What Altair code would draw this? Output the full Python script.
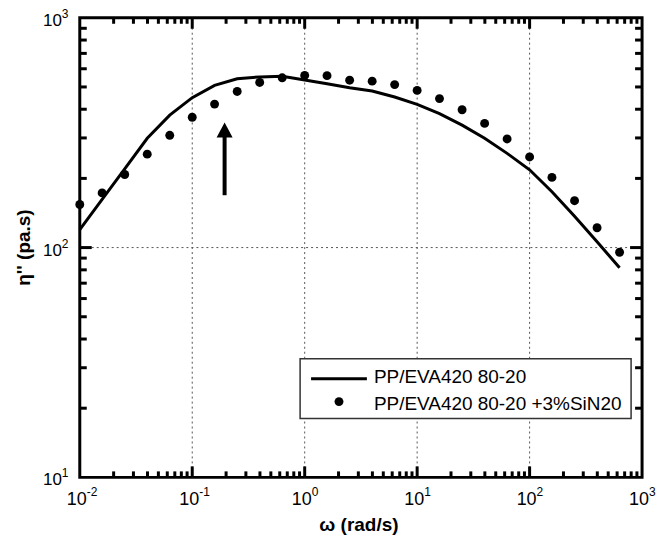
import altair as alt
import pandas as pd

# ---- data ----
omega = [0.01, 0.0158, 0.0251, 0.0398, 0.0631, 0.1, 0.158, 0.251, 0.398, 0.631,
         1.0, 1.58, 2.51, 3.98, 6.31, 10, 15.8, 25.1, 39.8, 63.1,
         100, 158, 251, 398, 631]
eta_blend = [119.7, 162, 220, 299, 377, 449, 508, 543, 553, 556,
             536, 516, 496, 480, 452, 420, 383, 341, 299, 257,
             218, 175, 137, 106, 81.7]
eta_sin = [154, 173, 208, 255, 308, 369, 421, 478, 523, 548,
           561, 560, 535, 530, 512, 483, 445, 398, 347, 297,
           248, 202, 160, 122, 95.4]

series_names = ["PP/EVA420 80-20", "PP/EVA420 80-20 +3%SiN20"]
x_title = "ω (rad/s)"
y_title = "η'' (pa.s)"

x_decades = [-2, -1, 0, 1, 2, 3]
y_decades = [1, 2, 3]
x_grid = [0.1, 1, 10, 100]
y_grid = [100]

arrow_x = [0.194]
arrow_y0 = [169]
arrow_y1 = [310]
arrow_head_y = [325]

W, H = 564, 461
FONT = "Liberation Sans"

x_scale = alt.Scale(type="log", domain=[0.01, 1000], nice=False)
y_scale = alt.Scale(type="log", domain=[10, 1000], nice=False)

def X(f):
    return alt.X(f, scale=x_scale, axis=None)

def Y(f):
    return alt.Y(f, scale=y_scale, axis=None)

line_df = pd.DataFrame({"w": omega, "eta": eta_blend})
pts_df = pd.DataFrame({"w": omega, "eta": eta_sin})

# grid lines
xg = alt.Chart(pd.DataFrame({"v": x_grid})).mark_rule(
    color="#555", strokeWidth=1, strokeDash=[2, 3]).encode(x=X("v:Q"))
yg = alt.Chart(pd.DataFrame({"v": y_grid})).mark_rule(
    color="#555", strokeWidth=1, strokeDash=[2, 3]).encode(y=Y("v:Q"))

line = alt.Chart(line_df).mark_line(color="black", strokeWidth=3).encode(
    x=X("w:Q"), y=Y("eta:Q"))

points = alt.Chart(pts_df).mark_circle(color="black", size=80, opacity=1).encode(
    x=X("w:Q"), y=Y("eta:Q"))

# arrow annotation
arr_df = pd.DataFrame({"x": arrow_x, "y0": arrow_y0, "y1": arrow_y1, "yh": arrow_head_y})
shaft = alt.Chart(arr_df).mark_rule(color="black", strokeWidth=4).encode(
    x=X("x:Q"), y=Y("y0:Q"), y2="y1:Q")
head = alt.Chart(arr_df).mark_point(shape="M0,-1L1.07,1L-1.07,1Z", filled=True, size=225,
                                    color="black", opacity=1).encode(
    x=X("x:Q"), y=Y("yh:Q"))

# inward ticks
x_minor = [m * 10 ** e for e in range(-2, 3) for m in range(2, 10)]
y_minor = [m * 10 ** e for e in range(1, 3) for m in range(2, 10)]
x_major = [10.0 ** e for e in x_decades[1:-1]]
y_major = [10.0 ** e for e in y_decades[1:-1]]

def xticks(vals, length):
    df = pd.DataFrame({"v": vals})
    bot = alt.Chart(df).mark_rule(color="black", strokeWidth=3, strokeCap="butt").encode(
        x=X("v:Q"), y=alt.value(H), y2=alt.value(H - length))
    top = alt.Chart(df).mark_rule(color="black", strokeWidth=3, strokeCap="butt").encode(
        x=X("v:Q"), y=alt.value(0), y2=alt.value(length))
    return [bot, top]

def yticks(vals, length):
    df = pd.DataFrame({"v": vals})
    lft = alt.Chart(df).mark_rule(color="black", strokeWidth=3, strokeCap="butt").encode(
        y=Y("v:Q"), x=alt.value(0), x2=alt.value(length))
    rgt = alt.Chart(df).mark_rule(color="black", strokeWidth=3, strokeCap="butt").encode(
        y=Y("v:Q"), x=alt.value(W), x2=alt.value(W - length))
    return [lft, rgt]

tick_layers = xticks(x_minor, 6) + xticks(x_major, 11) + yticks(y_minor, 7) + yticks(y_major, 12)

# tick labels: 10 with superscript exponent
xl_df = pd.DataFrame({"v": [10.0 ** e for e in x_decades],
                      "b": ["10"] * len(x_decades),
                      "e": [str(e) for e in x_decades]})
yl_df = pd.DataFrame({"v": [10.0 ** e for e in y_decades],
                      "b": ["10"] * len(y_decades),
                      "e": [str(e) for e in y_decades]})

xl_base = alt.Chart(xl_df).mark_text(font=FONT, fontSize=18, align="right", dx=7,
                                     baseline="alphabetic", color="black").encode(
    x=X("v:Q"), y=alt.value(H + 28), text="b:N")
xl_exp = alt.Chart(xl_df).mark_text(font=FONT, fontSize=12, align="left", dx=7,
                                    baseline="alphabetic", color="black").encode(
    x=X("v:Q"), y=alt.value(H + 19), text="e:N")
yl_base = alt.Chart(yl_df).mark_text(font=FONT, fontSize=17, align="right", dy=8,
                                     baseline="alphabetic", color="black").encode(
    y=Y("v:Q"), x=alt.value(-18), text="b:N")
yl_exp = alt.Chart(yl_df).mark_text(font=FONT, fontSize=12, align="left", dy=0,
                                    baseline="alphabetic", color="black").encode(
    y=Y("v:Q"), x=alt.value(-18), text="e:N")

# axis titles
xt = alt.Chart(pd.DataFrame({"t": [x_title]})).mark_text(
    font=FONT, fontSize=19, fontWeight="bold", align="center", baseline="alphabetic",
    color="black").encode(x=alt.value(W / 2 - 2), y=alt.value(H + 54), text="t:N")
yt = alt.Chart(pd.DataFrame({"t": [y_title]})).mark_text(
    font=FONT, fontSize=19, fontWeight="bold", align="center", baseline="alphabetic",
    angle=270, color="black").encode(x=alt.value(-50), y=alt.value(H / 2), text="t:N")

# legend
one = pd.DataFrame({"a": [0]})
leg_box = alt.Chart(one).mark_rect(fill="white", stroke="#333", strokeWidth=1.5).encode(
    x=alt.value(221), x2=alt.value(553), y=alt.value(342), y2=alt.value(402))
leg_line = alt.Chart(one).mark_rule(color="black", strokeWidth=3).encode(
    x=alt.value(232), x2=alt.value(288), y=alt.value(362))
leg_dot = alt.Chart(one).mark_circle(color="black", size=80, opacity=1).encode(
    x=alt.value(260), y=alt.value(385))
leg_text1 = alt.Chart(pd.DataFrame({"t": [series_names[0]]})).mark_text(
    font=FONT, fontSize=19, align="left", baseline="alphabetic", color="black").encode(
    x=alt.value(295), y=alt.value(366), text="t:N")
leg_text2 = alt.Chart(pd.DataFrame({"t": [series_names[1]]})).mark_text(
    font=FONT, fontSize=19, align="left", baseline="alphabetic", color="black").encode(
    x=alt.value(295), y=alt.value(393), text="t:N")

chart = alt.layer(
    xg, yg, line, points, shaft, head, *tick_layers,
    xl_base, xl_exp, yl_base, yl_exp, xt, yt,
    leg_box, leg_line, leg_dot, leg_text1, leg_text2,
).properties(
    width=W, height=H,
    background="white",
    autosize=alt.AutoSizeParams(type="none"),
    padding={"left": 72, "top": 9, "right": 20, "bottom": 60},
).configure_view(
    stroke="black", strokeWidth=3
)

chart.save("out.html", embed_options={"renderer": "svg", "actions": False})
